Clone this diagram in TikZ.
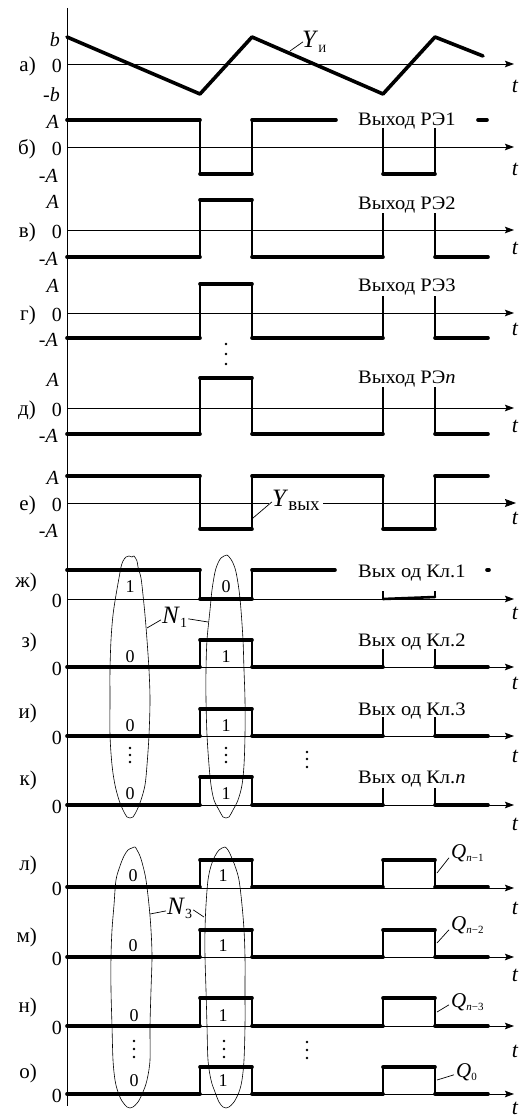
\documentclass[tikz,border=0pt]{standalone}
\usepackage{fontspec}
\setmainfont{Liberation Serif}
\newfontfamily\widefont[FakeStretch=1.08]{Liberation Serif}
\usetikzlibrary{arrows.meta}
\newcommand\mysub[2][11]{\raisebox{-0.35ex}{\fontsize{#1}{#1}\selectfont #2}}
\begin{document}
\begin{tikzpicture}[x=1pt,y=-1pt,
  wv/.style={line width=3.6pt,line cap=round,line join=round},
  ed/.style={line width=2pt},
  ax/.style={line width=0.8pt,-{Stealth[length=9pt,width=6.5pt,inset=1.5pt]}},
  axb/.style={line width=0.8pt,-{Stealth[length=11pt,width=8pt,inset=1.5pt]}},
  thn/.style={line width=0.7pt},
  lp/.style={line width=0.6pt},
  tx/.style={inner sep=0pt,font=\fontsize{20}{22}\selectfont},
  lt/.style={inner sep=0pt,font=\fontsize{21}{23}\selectfont,anchor=east},
  outtxt/.style={inner sep=0pt,font=\widefont\fontsize{19}{21}\selectfont,anchor=base west},
  dg/.style={inner sep=0pt,font=\fontsize{18}{20}\selectfont},
  tt/.style={inner sep=0pt,font=\fontsize{22}{24}\selectfont\itshape},
  big/.style={inner sep=0pt,font=\fontsize{25}{27}\selectfont,anchor=base west},
  ql/.style={inner sep=0pt,font=\fontsize{21}{23}\selectfont,anchor=base west},
  dt/.style={circle,fill,inner sep=0pt,minimum size=2.6pt},
]
\useasboundingbox (0,0) rectangle (523,1118);
% vertical axis
\coordinate (vtop) at (67,8);
\coordinate (vbot) at (67,1106);
\draw[thn] (vtop) -- (vbot);

% ---------------- a)
\draw[ax] (67,64) -- (514,64);
\draw[wv] (67,37) -- (200,94) -- (252,37) -- (383,94) -- (435,37) -- (483,56);
\node[lt] (la) at (36,66) {а)};
\node[tx,anchor=east] (va0) at (62,66) {0};
\node[tx,anchor=east] (vab) at (60,40) {\textit{b}};
\node[tx,anchor=east] (vamb) at (60,95) {-\textit{b}};
\node[tt] (ta) at (515,86) {t};
\node[big] (yi) at (302,48) {\textit{Y}\mysub{И}};
\coordinate (yia) at (290,51);
\draw[thn] (yia) -- ([xshift=1]yi.west);

% ---------------- b)
\draw[ax] (67,147) -- (514,147);
\draw[ed] (200,120) -- (200,174) (252,174) -- (252,120) (383,128) -- (383,174) (435,128) -- (435,174);
\draw[wv] (67,120) -- (200,120) (200,174) -- (252,174) (252,120) -- (336,120) (383,174) -- (435,174) (478,120) -- (487,120);
\node[outtxt] (ob) at (358,126) {Выход РЭ1};
\node[lt] (lb) at (36,149) {б)};
\node[tx,anchor=east] (vb0) at (62,149) {0};
\node[tx,anchor=east] (vbA) at (59,122) {\textit{A}};
\node[tx,anchor=east] (vbmA) at (58,176) {-\textit{A}};
\node[tt] (tb) at (515,169) {t};

% ---------------- v)
\draw[ax] (67,230) -- (514,230);
\draw[ed] (200,257) -- (200,200) (252,200) -- (252,257) (383,257) -- (383,213) (435,213) -- (435,257);
\draw[wv] (67,257) -- (200,257) (200,200) -- (252,200) (252,257) -- (383,257) (435,257) -- (488,257);
\node[outtxt] (ov) at (358,209) {Выход РЭ2};
\node[lt] (lv) at (36,232) {в)};
\node[tx,anchor=east] (vv0) at (62,232) {0};
\node[tx,anchor=east] (vvA) at (59,202) {\textit{A}};
\node[tx,anchor=east] (vvmA) at (58,259) {-\textit{A}};
\node[tt] (tv) at (515,248) {t};

% ---------------- g)
\draw[ax] (67,313) -- (514,313);
\draw[ed] (200,338) -- (200,284) (252,284) -- (252,338) (383,338) -- (383,296) (435,296) -- (435,338);
\draw[wv] (67,338) -- (200,338) (200,284) -- (252,284) (252,338) -- (383,338) (435,338) -- (488,338);
\node[outtxt] (og) at (358,291) {Выход РЭ3};
\node[lt] (lg) at (36,315) {г)};
\node[tx,anchor=east] (vg0) at (62,315) {0};
\node[tx,anchor=east] (vgA) at (59,286) {\textit{A}};
\node[tx,anchor=east] (vgmA) at (58,340) {-\textit{A}};
\node[tt] (tg) at (515,329) {t};

% ---------------- d)
\node[dt] (dd1) at (226,344) {};
\node[dt] (dd2) at (226,354) {};
\node[dt] (dd3) at (226,364) {};
\draw[ax] (67,408) -- (514,408);
\draw[ed] (200,434) -- (200,378) (252,378) -- (252,434) (383,434) -- (383,387) (435,387) -- (435,434);
\draw[wv] (67,434) -- (200,434) (200,378) -- (252,378) (252,434) -- (383,434) (435,434) -- (488,434);
\node[outtxt] (od) at (358,383) {Выход РЭ\textit{n}};
\node[lt] (ld) at (36,410) {д)};
\node[tx,anchor=east] (vd0) at (62,410) {0};
\node[tx,anchor=east] (vdA) at (59,380) {\textit{A}};
\node[tx,anchor=east] (vdmA) at (58,436) {-\textit{A}};
\node[tt] (td) at (515,426) {t};

% ---------------- e)
\draw[axb] (67,503) -- (516,503);
\draw[ed] (200,476) -- (200,529) (252,529) -- (252,476) (383,476) -- (383,529) (435,529) -- (435,476);
\draw[wv] (67,476) -- (200,476) (200,529) -- (252,529) (252,476) -- (383,476) (383,529) -- (435,529) (435,476) -- (488,476);
\node[big,fill=white,inner xsep=3pt,inner ysep=1pt] (yv) at (269,506) {\textit{Y}\mysub[19]{вых}};
\coordinate (yva) at (253,518);
\draw[thn] (yva) -- ([xshift=3,yshift=-2]yv.west);
\node[lt] (le) at (36,505) {е)};
\node[tx,anchor=east] (ve0) at (62,505) {0};
\node[tx,anchor=east] (veA) at (59,478) {\textit{A}};
\node[tx,anchor=east] (vemA) at (58,531) {-\textit{A}};
\node[tt] (te) at (515,518) {t};

% ---------------- loops N1
\draw[lp] plot[smooth cycle,tension=0.55] coordinates {(129,556) (132,557) (134,556) (137,561) (138,567) (141,578) (143,595) (145,615) (147,640) (149,670) (150,700) (149,735) (147,765) (145,785) (141,800) (137,810) (133,817) (130,818) (127,817) (123,810) (119,800) (115,785) (112,765) (110,735) (110,700) (110,670) (111,640) (113,615) (116,595) (119,578) (121,567) (123,561) (126,557)};
\draw[lp] plot[smooth cycle,tension=0.55] coordinates {(224,556) (227,555) (230,558) (233,563) (236,572) (239,590) (241,610) (243,640) (244,670) (245,700) (245,735) (244,765) (242,785) (238,800) (233,810) (229,817) (226,818) (223,817) (219,810) (214,800) (211,785) (209,765) (207,735) (206,700) (206,670) (207,640) (210,610) (212,590) (215,572) (218,563) (221,558)};
\node[ql] (n1) at (162,623) {\fontsize{25}{27}\selectfont\textit{N}\mysub[14]{1}};
\coordinate (n1a) at (147,628);
\coordinate (n1b) at (208,622);
\draw[thn] (n1a) -- ([xshift=-1,yshift=-3]n1.west);
\draw[thn] (n1b) -- ([xshift=1,yshift=-2]n1.east);

% ---------------- zh)
\draw[ax] (67,599) -- (514,599);
\draw[ed] (200,570) -- (200,599) (252,599) -- (252,570) (383,591) -- (383,599) (435,591) -- (435,597);
\draw[wv] (67,570) -- (200,570) (200,599) -- (252,599) (252,570) -- (335,570) (487,570) -- (489,570);
\draw[line width=2.6pt,line cap=round] (383,599) -- (435,597);
\node[outtxt] (ozh) at (358,577) {Вых од Кл.1};
\node[lt] (lzh) at (37,582) {ж)};
\node[tx,anchor=east] (vzh0) at (62,601) {0};
\node[tt] (tzh) at (515,613) {t};
\node[dg] (zh1) at (130,587) {1};
\node[dg] (zh2) at (226,587) {0};

% ---------------- z)
\draw[ax] (67,667) -- (514,667);
\draw[ed] (200,667) -- (200,640) (252,640) -- (252,667) (383,667) -- (383,649) (435,649) -- (435,667);
\draw[wv] (67,667) -- (200,667) (200,640) -- (252,640) (252,667) -- (383,667) (435,667) -- (488,667);
\node[outtxt] (oz) at (358,646) {Вых од Кл.2};
\node[lt] (lz) at (37,642) {з)};
\node[tx,anchor=east] (vz0) at (62,669) {0};
\node[tt] (tz) at (515,683) {t};
\node[dg] (z1) at (130,657) {0};
\node[dg] (z2) at (226,657) {1};

% ---------------- i)
\draw[ax] (67,736) -- (514,736);
\draw[ed] (200,736) -- (200,709) (252,709) -- (252,736) (383,736) -- (383,717) (435,717) -- (435,736);
\draw[wv] (67,736) -- (200,736) (200,709) -- (252,709) (252,736) -- (383,736) (435,736) -- (488,736);
\node[outtxt] (oi) at (358,715) {Вых од Кл.3};
\node[lt] (li) at (37,713) {и)};
\node[tx,anchor=east] (vi0) at (62,738) {0};
\node[tt] (ti) at (515,756) {t};
\node[dg] (i1) at (130,726) {0};
\node[dg] (i2) at (226,726) {1};
\node[dt] (di1) at (130,748) {};
\node[dt] (di2) at (130,755) {};
\node[dt] (di3) at (130,762) {};
\node[dt] (di4) at (226,748) {};
\node[dt] (di5) at (226,755) {};
\node[dt] (di6) at (226,762) {};
\node[dt] (di7) at (307,752) {};
\node[dt] (di8) at (307,759) {};
\node[dt] (di9) at (307,767) {};

% ---------------- k)
\draw[ax] (67,805) -- (514,805);
\draw[ed] (200,805) -- (200,777) (252,777) -- (252,805) (383,805) -- (383,788) (435,788) -- (435,805);
\draw[wv] (67,805) -- (200,805) (200,777) -- (252,777) (252,805) -- (383,805) (435,805) -- (488,805);
\node[outtxt] (ok) at (358,783) {Вых од Кл.\textit{n}};
\node[lt] (lk) at (37,780) {к)};
\node[tx,anchor=east] (vk0) at (62,807) {0};
\node[tt] (tk) at (515,824) {t};
\node[dg] (k1) at (130,794) {0};
\node[dg] (k2) at (226,794) {1};

% ---------------- loops N3
\draw[lp] plot[smooth cycle,tension=0.55] coordinates {(132,848) (135,847) (137,850) (140,856) (143,866) (146,880) (149,905) (151,930) (152,957) (151,990) (150,1026) (150,1060) (147,1080) (143,1092) (138,1102) (133,1107) (130,1108) (127,1107) (122,1101) (118,1092) (115,1080) (113,1060) (112,1026) (111,990) (111,957) (112,930) (114,905) (116,880) (120,866) (124,856) (128,850)};
\draw[lp] plot[smooth cycle,tension=0.55] coordinates {(222,848) (225,847) (228,850) (231,856) (235,866) (239,880) (242,905) (244,930) (245,957) (245,990) (245,1026) (244,1060) (242,1080) (239,1092) (234,1102) (229,1107) (226,1108) (223,1107) (219,1102) (215,1092) (211,1080) (208,1060) (207,1026) (206,990) (205,957) (205,930) (206,905) (208,880) (211,866) (215,856) (219,850)};
\node[ql] (n3) at (167,914) {\fontsize{25}{27}\selectfont\textit{N}\mysub[14]{3}};
\coordinate (n3a) at (150,914);
\coordinate (n3b) at (204,917);
\draw[thn] (n3a) -- ([xshift=-1,yshift=-3]n3.west);
\draw[thn] (n3b) -- ([xshift=1,yshift=-2]n3.east);

% ---------------- l) m) n) o)
\draw[ax] (67,888) -- (514,888);
\draw[ed] (200,887) -- (200,860) (252,860) -- (252,887) (383,887) -- (383,860) (435,860) -- (435,887);
\draw[wv] (67,887) -- (200,887) (200,860) -- (252,860) (252,887) -- (383,887) (383,860) -- (435,860) (435,887) -- (488,887);
\node[ql] (ql) at (451,858) {\textit{Q}\mysub[11]{\textit{n}−1}};
\coordinate (qla) at (437,873);
\draw[thn] (qla) -- ([xshift=-2,yshift=-5]ql.west);
\node[lt] (ll) at (37,865) {л)};
\node[tx,anchor=east] (vl0) at (62,889) {0};
\node[tt] (tl) at (515,908) {t};
\node[dg] (l1) at (133,876) {0};
\node[dg] (l2) at (223,876) {1};

\draw[ax] (67,957) -- (514,957);
\draw[ed] (200,957) -- (200,930) (252,930) -- (252,957) (383,957) -- (383,930) (435,930) -- (435,957);
\draw[wv] (67,957) -- (200,957) (200,930) -- (252,930) (252,957) -- (383,957) (383,930) -- (435,930) (435,957) -- (488,957);
\node[ql] (qm) at (451,930) {\textit{Q}\mysub[11]{\textit{n}−2}};
\coordinate (qma) at (437,943);
\draw[thn] (qma) -- ([xshift=-2,yshift=-5]qm.west);
\node[lt] (lm) at (37,937) {м)};
\node[tx,anchor=east] (vm0) at (62,959) {0};
\node[tt] (tm) at (515,975) {t};
\node[dg] (m1) at (133,946) {0};
\node[dg] (m2) at (223,946) {1};

\draw[ax] (67,1026) -- (514,1026);
\draw[ed] (200,1026) -- (200,998) (252,998) -- (252,1026) (383,1026) -- (383,998) (435,998) -- (435,1026);
\draw[wv] (67,1026) -- (200,1026) (200,998) -- (252,998) (252,1026) -- (383,1026) (383,998) -- (435,998) (435,1026) -- (488,1026);
\node[ql] (qn) at (451,1007) {\textit{Q}\mysub[11]{\textit{n}−3}};
\coordinate (qna) at (437,1012);
\draw[thn] (qna) -- ([xshift=-2,yshift=-3]qn.west);
\node[lt] (ln) at (37,1007) {н)};
\node[tx,anchor=east] (vn0) at (62,1028) {0};
\node[tt] (tn) at (515,1051) {t};
\node[dg] (nn1) at (134,1016) {0};
\node[dg] (nn2) at (223,1016) {1};
\node[dt] (dn1) at (134,1041) {};
\node[dt] (dn2) at (134,1049) {};
\node[dt] (dn3) at (134,1057) {};
\node[dt] (dn4) at (224,1041) {};
\node[dt] (dn5) at (224,1049) {};
\node[dt] (dn6) at (224,1057) {};
\node[dt] (dn7) at (307,1042) {};
\node[dt] (dn8) at (307,1050) {};
\node[dt] (dn9) at (307,1058) {};

\draw[ax] (67,1094) -- (514,1094);
\draw[ed] (200,1094) -- (200,1067) (252,1067) -- (252,1094) (383,1094) -- (383,1067) (435,1067) -- (435,1094);
\draw[wv] (67,1094) -- (200,1094) (200,1067) -- (252,1067) (252,1094) -- (383,1094) (383,1067) -- (435,1067) (435,1094) -- (488,1094);
\node[ql] (qo) at (456,1077) {\textit{Q}\mysub[11]{0}};
\coordinate (qoa) at (437,1080);
\draw[thn] (qoa) -- ([xshift=-2,yshift=-3]qo.west);
\node[lt] (lo) at (37,1073) {о)};
\node[tx,anchor=east] (vo0) at (62,1096) {0};
\node[tt] (to) at (515,1108) {t};
\node[dg] (o1) at (134,1081) {0};
\node[dg] (o2) at (223,1081) {1};
\end{tikzpicture}
\end{document}
